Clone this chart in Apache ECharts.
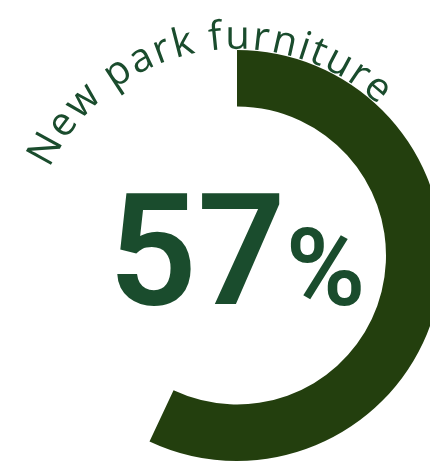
<!DOCTYPE html>
<html>
<head>
<meta charset="utf-8">
<script src="https://cdn.jsdelivr.net/npm/echarts@6/dist/echarts.min.js"></script>
<style>
  html, body { margin: 0; padding: 0; background: #ffffff; }
  #chart { width: 430px; height: 464px; }
</style>
</head>
<body>
<div id="chart"></div>
<script>
// Share of respondents in favour of the item
const categories = ['New park furniture'];
const values = [57];
const total = 100;

const arcColor = '#233f0e';
const textColor = '#1a4c2d';

const center = [237, 255.5];
const innerR = 149;
const outerR = 205.5;

const chart = echarts.init(document.getElementById('chart'), null, { renderer: 'canvas' });

const ctx = document.createElement('canvas').getContext('2d');
const titleFont = '500 40px "Open Sans", "DejaVu Sans", sans-serif';

// Lay the heading out letter by letter along a circle around the ring centre
function curvedText(text, radius, midDeg, spacing) {
  ctx.font = titleFont;
  const chars = Array.from(text);
  const widths = chars.map(c => ctx.measureText(c).width + spacing);
  const totalLen = widths.reduce((a, b) => a + b, 0) - spacing;
  let s = midDeg * Math.PI / 180 * radius - totalLen / 2;
  const els = [];
  chars.forEach((c, i) => {
    const w = widths[i] - spacing;
    const theta = (s + w / 2) / radius;
    s += widths[i];
    if (c === ' ') return;
    els.push({
      type: 'text',
      x: center[0] + radius * Math.sin(theta),
      y: center[1] - radius * Math.cos(theta),
      rotation: -theta,
      z: 10,
      style: {
        text: c,
        fill: textColor,
        font: titleFont,
        align: 'center',
        verticalAlign: 'bottom'
      }
    });
  });
  return els;
}

// Big percentage in the middle: number plus a smaller percent sign
const numText = String(values[0]);
const numFont = '600 155px Roboto, sans-serif';
const pctFont = '600 108px Roboto, sans-serif';
ctx.font = numFont;
const numW = ctx.measureText(numText).width;
ctx.font = pctFont;
const pctW = ctx.measureText('%').width;
const gap = 0;
const left = center[0] - (numW + gap + pctW) / 2;
const baseY = 307;

const graphics = curvedText(categories[0], 198, -11, 1.2).concat([
  {
    type: 'text', x: left, y: baseY + 0.23 * 155, z: 10,
    style: { text: numText, font: numFont, fill: textColor, align: 'left', verticalAlign: 'bottom' }
  },
  {
    type: 'text', x: left + numW + gap, y: baseY + 0.23 * 108, z: 10,
    style: { text: '%', font: pctFont, fill: textColor, align: 'left', verticalAlign: 'bottom' }
  }
]);

chart.setOption({
  animation: false,
  series: [{
    type: 'pie',
    center: center,
    radius: [innerR, outerR],
    startAngle: 90,
    clockwise: true,
    silent: true,
    label: { show: false },
    labelLine: { show: false },
    data: [
      { name: categories[0], value: values[0], itemStyle: { color: arcColor } },
      { name: 'rest', value: total - values[0], itemStyle: { color: 'rgba(0,0,0,0)' } }
    ]
  }],
  graphic: graphics
});
</script>
</body>
</html>
